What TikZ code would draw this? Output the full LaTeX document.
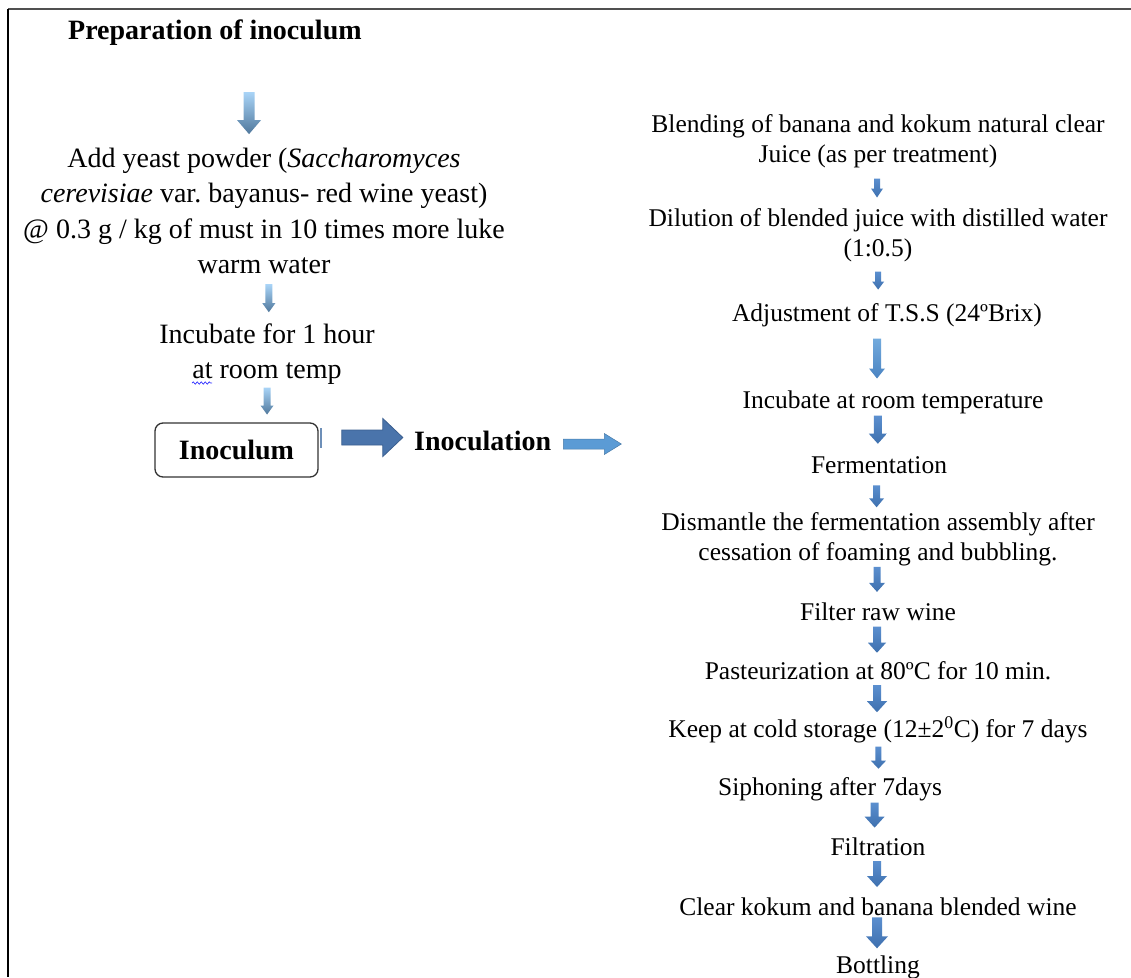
\documentclass[tikz,border=0pt]{standalone}
\usepackage{fontspec}
\setmainfont{Liberation Serif}
\usetikzlibrary{calc,decorations.pathmorphing}
\definecolor{lgtop}{HTML}{A9D4F7}
\definecolor{lgbot}{HTML}{50789C}
\definecolor{rbtop}{HTML}{5B8FCF}
\definecolor{rbbot}{HTML}{3E70AE}
\definecolor{rltop}{HTML}{72AADD}
\definecolor{rlbot}{HTML}{4A84C2}
\definecolor{bigfill}{HTML}{4A74AB}
\definecolor{bigedge}{HTML}{3A5F90}
\definecolor{smfill}{HTML}{5B9BD5}
\definecolor{frame}{HTML}{505050}
\definecolor{barcol}{HTML}{6D8FB8}
\tikzset{
  lefttxt/.style={inner sep=0pt, align=center, font=\fontsize{28}{35.3}\selectfont},
  righttxt/.style={inner sep=0pt, align=center, font=\fontsize{25.5}{30.5}\selectfont},
  boldtxt/.style={inner sep=0pt, font=\fontsize{28}{34}\selectfont\bfseries},
  inocbox/.style={draw=black!80, line width=1.3pt, rounded corners=8pt, minimum width=163pt, minimum height=54pt, inner sep=0pt, font=\fontsize{28}{34}\selectfont\bfseries},
  pics/garr/.style n args={4}{code={
    \shade[top color=lgtop, bottom color=lgbot]
      ({-(#2)/2},{-(#1)/2}) -- ({(#2)/2},{-(#1)/2}) -- ({(#2)/2},{(#1)/2-(#4)}) -- ({(#3)/2},{(#1)/2-(#4)})
      -- (0,{(#1)/2}) -- ({-(#3)/2},{(#1)/2-(#4)}) -- ({-(#2)/2},{(#1)/2-(#4)}) -- cycle;}},
  pics/barr/.style n args={4}{code={
    \shade[top color=rbtop, bottom color=rbbot]
      ({-(#2)/2},{-(#1)/2}) -- ({(#2)/2},{-(#1)/2}) -- ({(#2)/2},{(#1)/2-(#4)}) -- ({(#3)/2},{(#1)/2-(#4)})
      -- (0,{(#1)/2}) -- ({-(#3)/2},{(#1)/2-(#4)}) -- ({-(#2)/2},{(#1)/2-(#4)}) -- cycle;}},
  pics/larr/.style n args={4}{code={
    \shade[top color=rltop, bottom color=rlbot]
      ({-(#2)/2},{-(#1)/2}) -- ({(#2)/2},{-(#1)/2}) -- ({(#2)/2},{(#1)/2-(#4)}) -- ({(#3)/2},{(#1)/2-(#4)})
      -- (0,{(#1)/2}) -- ({-(#3)/2},{(#1)/2-(#4)}) -- ({-(#2)/2},{(#1)/2-(#4)}) -- cycle;}},
  pics/harr/.style n args={4}{code={
    \path[pic actions]
      ({-(#1)/2},{-(#2)/2}) -- ({(#1)/2-(#4)},{-(#2)/2}) -- ({(#1)/2-(#4)},{-(#3)/2}) -- ({(#1)/2},0)
      -- ({(#1)/2-(#4)},{(#3)/2}) -- ({(#1)/2-(#4)},{(#2)/2}) -- ({-(#1)/2},{(#2)/2}) -- cycle;}},
}
\begin{document}
\begin{tikzpicture}[x=1pt,y=-1pt]
\useasboundingbox (0,0) rectangle (1131,977);
\fill[white] (0,0) rectangle (1131,977);
% frame
\draw[frame, line width=2pt] (8,9) -- (1131,9);
\draw[black, line width=1.5pt] (8,9) -- (8,977);

% left column
\node[boldtxt, anchor=west] (l0) at (68,33) {Preparation of inoculum};
\node[lefttxt] (l1) at (264,211) {Add yeast powder (\textit{Saccharomyces}\\\textit{cerevisiae} var.\ bayanus- red wine yeast)\\@ 0.3 g / kg of must in 10 times more luke\\warm water};
\node[lefttxt] (l2) at (267,354) {Incubate for 1 hour\\at room temp};
\node[inocbox] (inoc) at (236.5,450) {Inoculum};
\node[boldtxt, anchor=west] (inocl) at (414,441) {Inoculation};
\coordinate (inocend) at ($(inocl.east)+(70,6)$);

\pic at ($(l0.center)!0.45!(l1.center)+(12,0)$) {garr={42}{11}{24}{14}};
\pic at ($(l1.center)!0.61!(l2.center)+(3,0)$) {garr={28}{7}{13}{9}};
\pic at ($(l2.center)!0.49!(inoc.center)+(15,0)$) {garr={27}{7}{13}{9}};
\draw[blue!80, line width=0.7pt, decorate, decoration={snake, amplitude=1.2pt, segment length=4pt}] (192,383) -- (212,383);
\draw[barcol, line width=2pt] (321,428) -- (321,448);

\pic[fill=bigfill, draw=bigedge, line width=0.8pt] at ($(inoc.east)!0.5!(inocl.west)+(6,-8)$) {harr={61}{15}{38}{20}};
\pic[fill=smfill, draw=smfill!80!black, line width=0.5pt] at ($(inocl.east)!0.5!(inocend)+(6,0)$) {harr={58}{10}{21}{17}};

% right column
\node[righttxt] (r1) at (878,141) {Blending of banana and kokum natural clear\\Juice (as per treatment)};
\node[righttxt] (r2) at (878,235) {Dilution of blended juice with distilled water\\(1:0.5)};
\node[righttxt] (r3) at (887,315) {Adjustment of T.S.S (24ºBrix)};
\node[righttxt] (r4) at (893,402) {Incubate at room temperature};
\node[righttxt] (r5) at (879,465) {Fermentation};
\node[righttxt] (r6) at (878,539.5) {Dismantle the fermentation assembly after\\cessation of foaming and bubbling.};
\node[righttxt] (r7) at (878,612) {Filter raw wine};
\node[righttxt] (r8) at (878,671) {Pasteurization at 80ºC for 10 min.};
\node[righttxt] (r9) at (878,730) {Keep at cold storage (12±2\textsuperscript{0}C) for 7 days};
\node[righttxt] (r10) at (830,789) {Siphoning after 7days};
\node[righttxt] (r11) at (878,847) {Filtration};
\node[righttxt] (r12) at (878,907) {Clear kokum and banana blended wine};
\node[righttxt] (r13) at (878,967) {Bottling};

\pic at ($(r1.center)!0.50!(r2.center)+(-1,0)$) {barr={19}{6}{12}{9}};
\pic at ($(r2.center)!0.57!(r3.center)+(-5,0)$) {barr={18}{6}{12}{8}};
\pic at ($(r3.center)!0.50!(r4.center)+(-13,0)$) {larr={40}{8}{16}{10}};
\pic at ($(r4.center)!0.44!(r5.center)+(-9,0)$) {barr={28}{8}{18}{10}};
\pic at ($(r5.center)!0.42!(r6.center)+(-2,0)$) {barr={22}{7}{15}{9}};
\pic at ($(r6.center)!0.55!(r7.center)+(-1,0)$) {barr={25}{7}{16}{9}};
\pic at ($(r7.center)!0.47!(r8.center)+(-1,0)$) {barr={26}{8}{18}{10}};
\pic at ($(r8.center)!0.47!(r9.center)+(-1,0)$) {barr={27}{8}{20}{11}};
\pic at ($(r9.center)!0.47!(r10.center)+(23,0)$) {barr={22}{6}{15}{8}};
\pic at ($(r10.center)!0.45!(r11.center)+(23,0)$) {barr={25}{8}{20}{11}};
\pic at ($(r11.center)!0.45!(r12.center)+(-1,0)$) {barr={26}{8}{20}{11}};
\pic at ($(r12.center)!0.43!(r13.center)+(-1,0)$) {barr={31}{10}{22}{12}};
\end{tikzpicture}
\end{document}
